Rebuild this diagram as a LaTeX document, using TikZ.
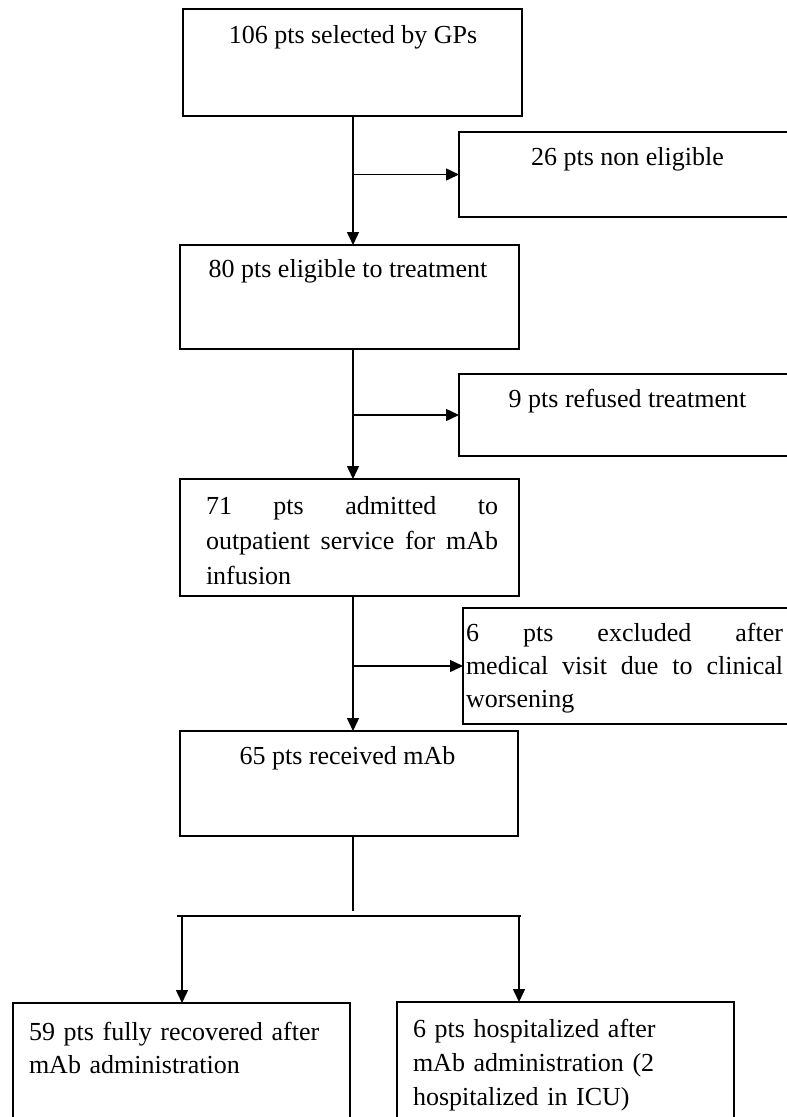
\documentclass[tikz,border=0pt]{standalone}
\usepackage{fontspec}
\setmainfont{Liberation Serif}
\usetikzlibrary{arrows.meta}
\begin{document}
\begin{tikzpicture}[x=1pt,y=-1pt,
  box/.style={draw, line width=1.6pt, inner sep=0pt, outer sep=0pt, anchor=north west},
  txt/.style={inner sep=0pt, outer sep=0pt, font=\fontsize{26}{33}\selectfont},
  para/.style={txt, anchor=base west, align=left},
  conn/.style={line width=1.5pt},
  arr/.style={conn, -{Triangle[length=13pt,width=12pt]}}]
\clip (0,0) rectangle (787,1117);
\fill[white] (0,0) rectangle (787,1117);
% boxes
\node[box, minimum width=339pt, minimum height=107pt] (b1) at (183,9) {};
\node[box, minimum width=345pt, minimum height=85pt]  (b2) at (459,132) {};
\node[box, minimum width=339pt, minimum height=104pt] (b3) at (180,245) {};
\node[box, minimum width=345pt, minimum height=82pt]  (b4) at (459,374) {};
\node[box, minimum width=339pt, minimum height=117pt] (b5) at (180,479) {};
\node[box, minimum width=340pt, minimum height=116pt] (b6) at (463,608) {};
\node[box, minimum width=338pt, minimum height=105pt] (b7) at (180,731) {};
\node[box, minimum width=337pt, minimum height=140pt] (b8) at (13,1003) {};
\node[box, minimum width=337pt, minimum height=140pt] (b9) at (397,1002) {};
% texts
\node[txt, anchor=base] (t1) at (353,43) {106 pts selected by GPs};
\node[txt, anchor=base] (t2) at (627.5,165) {26 pts non eligible};
\node[txt, anchor=base] (t3) at (348,277) {80 pts eligible to treatment};
\node[txt, anchor=base] (t4) at (627.5,407) {9 pts refused treatment};
\node[para, text width=292pt, font=\fontsize{26}{35}\selectfont] (t5) at (206,514)
  {71\hfill pts\hfill admitted\hfill to\\outpatient\hfill service\hfill for\hfill mAb\\infusion};
\node[para, text width=317pt] (t6) at (466,641)
  {6\hfill pts\hfill excluded\hfill after\\medical\hfill visit\hfill due\hfill to\hfill clinical\\worsening};
\node[txt, anchor=base] (t7) at (347.5,764) {65 pts received mAb};
\node[para, text width=315pt] (t8) at (29,1040) {59 pts fully recovered after\\mAb administration};
\node[para, text width=315pt, font=\fontsize{26}{34}\selectfont] (t9) at (413,1037)
  {6 pts hospitalized after\\mAb administration (2\\hospitalized in ICU)};
% connectors
\coordinate (spine) at (353,0);
\draw[arr] (spine |- b1.south) -- (spine |- b3.north);
\draw[arr] (spine |- b2.west) -- (b2.west);
\draw[arr] (spine |- b3.south) -- (spine |- b5.north);
\draw[arr] (spine |- b4.west) -- (b4.west);
\draw[arr] (spine |- b5.south) -- (spine |- b7.north);
\draw[arr] (spine |- b6.west) -- (b6.west);
\coordinate (m7) at (353,911);
\draw[conn] (b7.south -| m7) -- (m7);
\coordinate (hl) at (177,916);
\coordinate (hr) at (521,916);
\draw[conn] (hl) -- (hr);
\coordinate (la) at (182,916);
\draw[arr] (la) -- (la |- b8.north);
\coordinate (ra) at (519,916);
\draw[arr] (ra) -- (ra |- b9.north);
\end{tikzpicture}
\end{document}
